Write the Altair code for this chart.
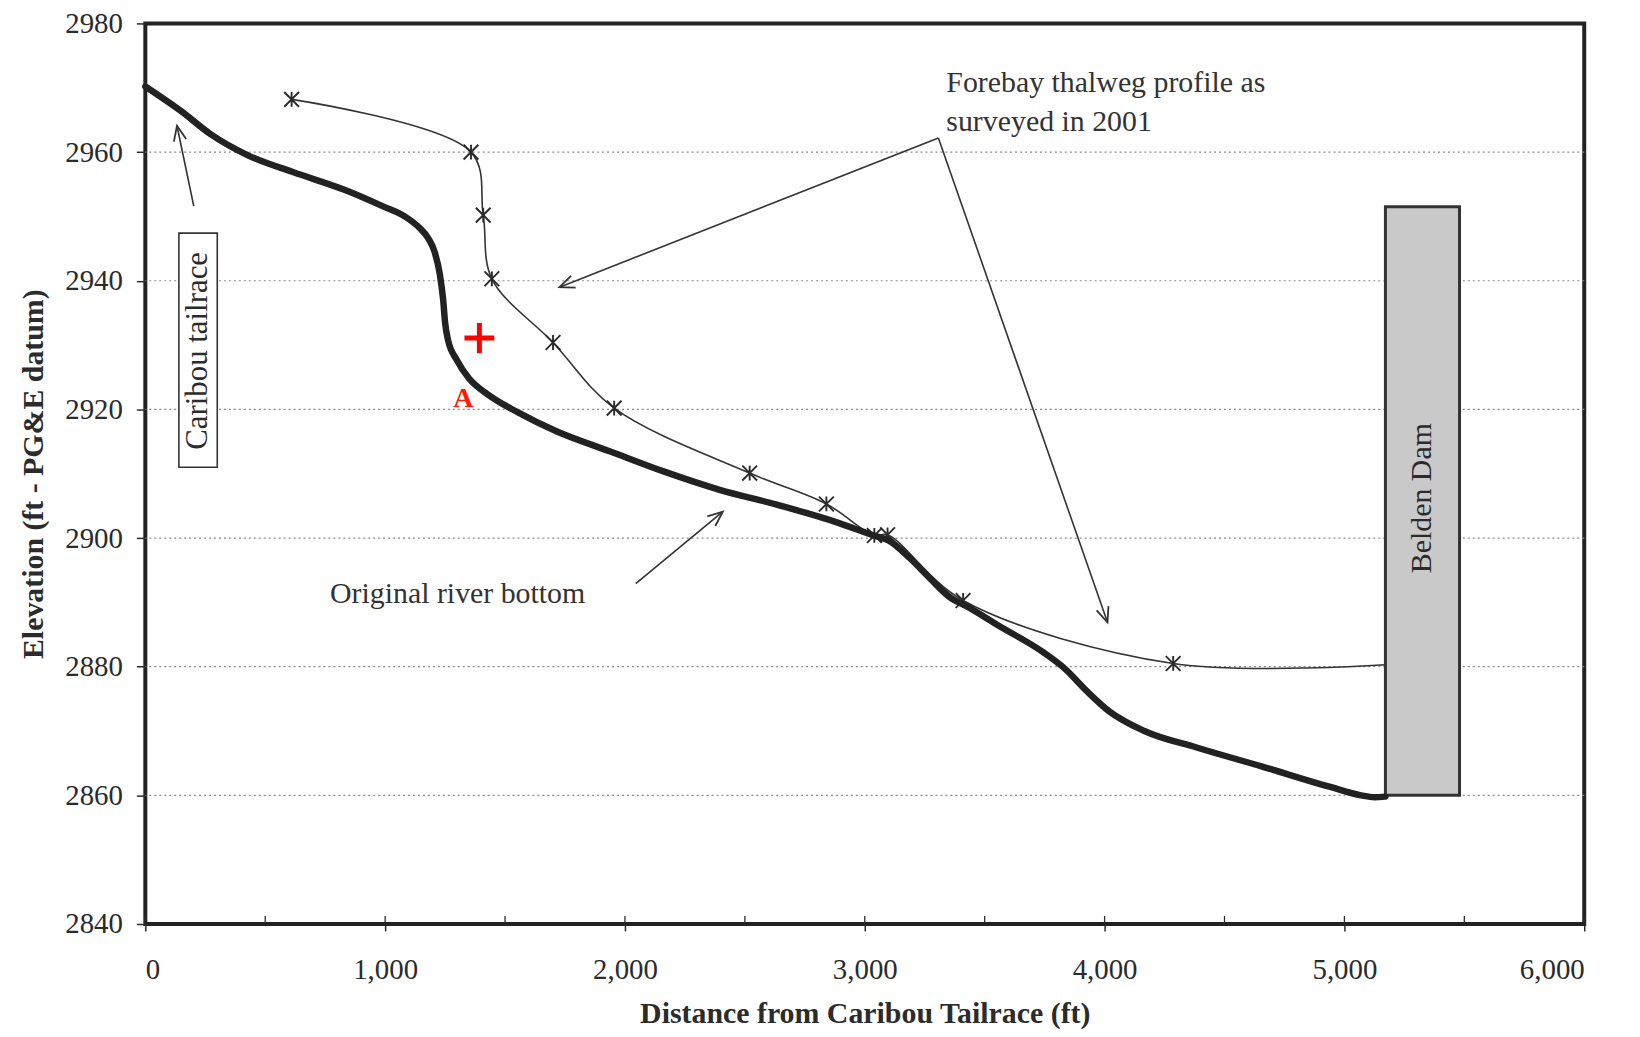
import math
import altair as alt
import pandas as pd

# ---------------- data ----------------
bottom_x = [0, 148, 272, 428, 615, 833, 989, 1082, 1144, 1180, 1207, 1228, 1242, 1250, 1262, 1300, 1350,
            1429, 1556, 1714, 1936, 2158, 2395, 2633, 2871, 3045, 3100, 3187, 3270, 3362, 3420,
            3557, 3742, 3834, 3926, 4018, 4166, 4387, 4664, 4941, 5070, 5125, 5171]
bottom_y = [2970.2, 2966.4, 2962.8, 2959.5, 2956.9, 2954.1, 2951.6, 2950.0, 2948.2, 2946.6, 2944.4, 2941.0,
            2937.0, 2933.5, 2930.8, 2927.6, 2924.8, 2922.3, 2919.5, 2916.6, 2913.5, 2910.4, 2907.5,
            2905.2, 2902.6, 2900.3, 2899.6, 2896.9, 2893.8, 2890.6, 2889.5, 2886.4, 2882.3, 2879.7,
            2876.2, 2873.1, 2870.0, 2867.4, 2864.4, 2861.3, 2860.0, 2859.7, 2859.8]

survey_x = [610, 1358, 1409, 1445, 1700, 1955, 2520, 2840, 3040, 3095, 3410, 4286, 5171]
survey_y = [2968.2, 2960.0, 2950.2, 2940.3, 2930.4, 2920.2, 2910.1, 2905.3, 2900.4, 2900.5,
            2890.3, 2880.5, 2880.3]
survey_marked = [True] * 12 + [False]

x_ticks = [0, 1000, 2000, 3000, 4000, 5000, 6000]
x_minor = [0, 500, 1000, 1500, 2000, 2500, 3000, 3500, 4000, 4500, 5000, 5500, 6000]
y_ticks = [2840, 2860, 2880, 2900, 2920, 2940, 2960, 2980]
grid_y = [2860, 2880, 2900, 2920, 2940, 2960]

dam = {"x": 5171, "x2": 5480, "y": 2860, "y2": 2951.5, "label": "Belden Dam", "lx": 5325, "ly": 2906.2}
box = {"x": 140, "x2": 300, "y": 2911, "y2": 2947.4, "label": "Caribou tailrace", "lx": 220, "ly": 2929.1}

arrows_x = [3307, 3307, 2045, 202]
arrows_y = [2962.2, 2962.2, 2892.9, 2951.6]
arrows_x2 = [1727, 4012, 2408, 132]
arrows_y2 = [2939.0, 2886.9, 2904.1, 2964.1]

notes_text = ["Forebay thalweg profile as", "surveyed in 2001", "Original river bottom"]
notes_x = [3340, 3340, 770]
notes_y = [2969.3, 2963.3, 2889.9]

plus_x, plus_y = [1393], [2931.1]
a_x, a_y = [1326], [2920.3]

# ---------------- layout ----------------
W, H = 1446, 905
XMIN, XMAX, YMIN, YMAX = 0, 6000, 2840, 2980
FONT = "Liberation Serif"
INK = "#2b2b2b"
FS = 30

xs = alt.Scale(domain=[XMIN, XMAX], nice=False, zero=False)
ys = alt.Scale(domain=[YMIN, YMAX], nice=False, zero=False)


def head_angle(x1, y1, x2, y2):
    dx = (x2 - x1) * W / (XMAX - XMIN)
    dy = -(y2 - y1) * H / (YMAX - YMIN)
    return math.degrees(math.atan2(dx, -dy)) % 360


bottom_df = pd.DataFrame({"x": bottom_x, "y": bottom_y})
survey_df = pd.DataFrame({"x": survey_x, "y": survey_y, "m": survey_marked})
grid_df = pd.DataFrame({"y": grid_y})
minor_df = pd.DataFrame({"x": x_minor, "y": [YMIN] * len(x_minor), "y2": [YMIN + 1.25] * len(x_minor)})
arrow_df = pd.DataFrame({"x": arrows_x, "y": arrows_y, "x2": arrows_x2, "y2": arrows_y2})
arrow_df["angle"] = [head_angle(a, b, c, d) for a, b, c, d in zip(arrows_x, arrows_y, arrows_x2, arrows_y2)]
notes_df = pd.DataFrame({"t": notes_text, "x": notes_x, "y": notes_y})
dam_df = pd.DataFrame([dam])
box_df = pd.DataFrame([box])

grid = alt.Chart(grid_df).mark_rule(color="#8a8a8a", strokeWidth=1.2, strokeDash=[2, 3]).encode(
    y=alt.Y("y:Q", scale=ys))

base_axes = alt.Chart(bottom_df).mark_point(opacity=0).encode(
    x=alt.X("x:Q", scale=xs, title="Distance from Caribou Tailrace (ft)",
            axis=alt.Axis(values=x_ticks, format=",d", grid=False, domain=False, tickSize=7,
                          tickColor=INK, tickWidth=1.5, labelFont=FONT, labelFontSize=29,
                          labelColor=INK, labelPadding=25, titleFont=FONT, titleFontSize=FS,
                          titleFontWeight="bold", titleColor=INK, titlePadding=14)),
    y=alt.Y("y:Q", scale=ys, title="Elevation (ft - PG&E datum)",
            axis=alt.Axis(values=y_ticks, format="d", grid=False, domain=False, tickSize=9,
                          tickColor=INK, tickWidth=1.5, labelFont=FONT, labelFontSize=29,
                          labelColor=INK, labelPadding=14, titleFont=FONT, titleFontSize=FS,
                          titleFontWeight="bold", titleColor=INK, titlePadding=16)),
)

minor = alt.Chart(minor_df).mark_rule(color=INK, strokeWidth=1.3).encode(
    x=alt.X("x:Q", scale=xs), y=alt.Y("y:Q", scale=ys), y2="y2:Q")

dam_rect = alt.Chart(dam_df).mark_rect(fill="#c9c9c9", stroke="#333333", strokeWidth=3).encode(
    x=alt.X("x:Q", scale=xs), x2="x2:Q", y=alt.Y("y:Q", scale=ys), y2="y2:Q")
dam_text = alt.Chart(dam_df).mark_text(font=FONT, fontSize=FS, angle=270, color=INK,
                                       align="center", baseline="middle").encode(
    x=alt.X("lx:Q", scale=xs), y=alt.Y("ly:Q", scale=ys), text="label:N")

box_rect = alt.Chart(box_df).mark_rect(fill="white", stroke="#333333", strokeWidth=1.6).encode(
    x=alt.X("x:Q", scale=xs), x2="x2:Q", y=alt.Y("y:Q", scale=ys), y2="y2:Q")
box_text = alt.Chart(box_df).mark_text(font=FONT, fontSize=31, angle=270, color=INK,
                                       align="center", baseline="middle").encode(
    x=alt.X("lx:Q", scale=xs), y=alt.Y("ly:Q", scale=ys), text="label:N")

bottom_line = alt.Chart(bottom_df).mark_line(color="#222222", strokeWidth=6.5,
                                             interpolate="monotone", strokeCap="round",
                                             strokeJoin="round").encode(
    x=alt.X("x:Q", scale=xs), y=alt.Y("y:Q", scale=ys), order="x:Q")

survey_line = alt.Chart(survey_df).mark_line(color="#333333", strokeWidth=1.6,
                                             interpolate="catmull-rom").encode(
    x=alt.X("x:Q", scale=xs), y=alt.Y("y:Q", scale=ys), order="x:Q")

survey_pts = alt.Chart(survey_df).transform_filter("datum.m").mark_point(
    shape="M-1,-1L1,1M-1,1L1,-1M0,-1L0,1", filled=False, size=220, color="#2b2b2b",
    strokeWidth=1.9, opacity=1).encode(x=alt.X("x:Q", scale=xs), y=alt.Y("y:Q", scale=ys))

arrow_lines = alt.Chart(arrow_df).mark_rule(color="#333333", strokeWidth=1.6).encode(
    x=alt.X("x:Q", scale=xs), y=alt.Y("y:Q", scale=ys), x2="x2:Q", y2="y2:Q")
arrow_heads = alt.Chart(arrow_df).mark_point(
    shape="M-0.42,1L0,0L0.42,1", filled=False, size=900, color="#333333", strokeWidth=1.8,
    opacity=1).encode(x=alt.X("x2:Q", scale=xs), y=alt.Y("y2:Q", scale=ys),
                      angle=alt.Angle("angle:Q", scale=None))

notes = alt.Chart(notes_df).mark_text(font=FONT, fontSize=FS, color="#333333", align="left",
                                      baseline="alphabetic").encode(
    x=alt.X("x:Q", scale=xs), y=alt.Y("y:Q", scale=ys), text="t:N")

plus = alt.Chart(pd.DataFrame({"x": plus_x, "y": plus_y})).mark_point(
    shape="M-1,0L1,0M0,-1L0,1", filled=False, size=900, color="#ff0000", strokeWidth=5,
    opacity=1).encode(x=alt.X("x:Q", scale=xs), y=alt.Y("y:Q", scale=ys))
a_label = alt.Chart(pd.DataFrame({"x": a_x, "y": a_y, "t": ["A"]})).mark_text(
    font=FONT, fontSize=28, fontWeight="bold", color="#ff1a00", align="center",
    baseline="alphabetic").encode(x=alt.X("x:Q", scale=xs), y=alt.Y("y:Q", scale=ys), text="t:N")

chart = alt.layer(
    base_axes, grid, minor, dam_rect, dam_text, box_rect, box_text, arrow_lines, arrow_heads,
    survey_line, survey_pts, bottom_line, notes, plus, a_label
).properties(
    width=W, height=H,
    autosize=alt.AutoSizeParams(type="none"),
    padding={"left": 138, "top": 13, "right": 48, "bottom": 103},
    background="white",
).configure_view(stroke="#222222", strokeWidth=4, fill="white")

chart.save("out.html", embed_options={"renderer": "svg", "actions": False})
